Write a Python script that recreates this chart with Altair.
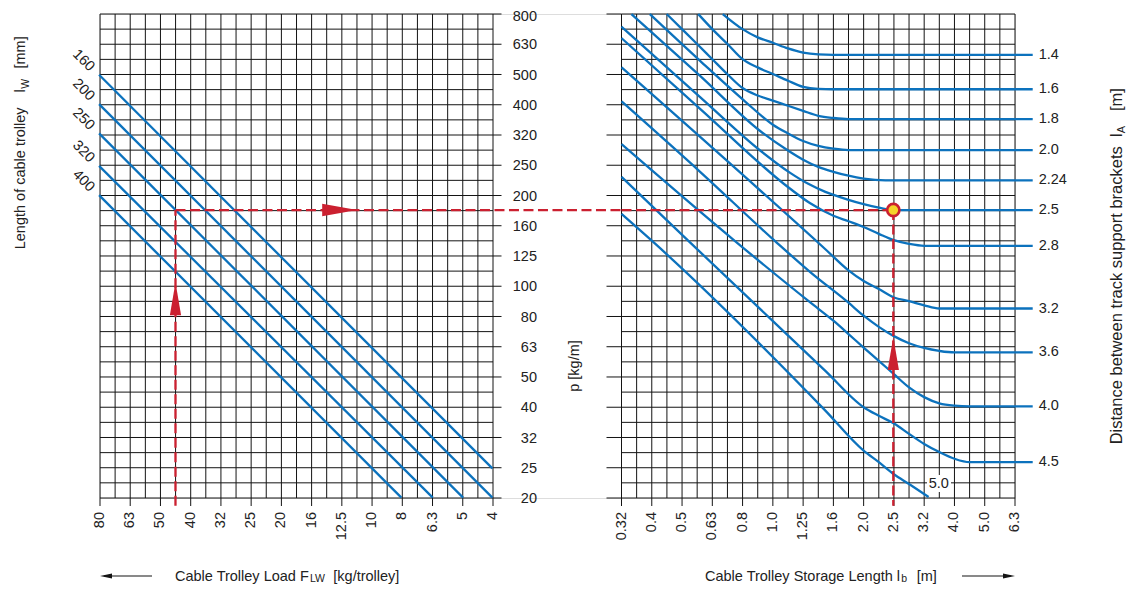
import altair as alt
import pandas as pd

# ---------------- axis ticks, labels and grid (log-uniform, 0.05-decade grid) ----------------
load_tick_values = [79.43, 63.10, 50.12, 39.81, 31.62, 25.12, 19.95, 15.85, 12.59, 10.0, 7.943, 6.310, 5.012, 3.981]
load_tick_labels = ["80", "63", "50", "40", "32", "25", "20", "16", "12.5", "10", "8", "6.3", "5", "4"]
load_grid_values = [79.43, 70.79, 63.10, 56.23, 50.12, 44.67, 39.81, 35.48, 31.62, 28.18, 25.12, 22.39, 19.95,
                    17.78, 15.85, 14.13, 12.59, 11.22, 10.0, 8.913, 7.943, 7.079, 6.310, 5.623, 5.012, 4.467, 3.981]

p_tick_values = [794.3, 631.0, 501.2, 398.1, 316.2, 251.2, 199.5, 158.5, 125.9, 100.0, 79.43, 63.10, 50.12,
                 39.81, 31.62, 25.12, 19.95]
p_tick_labels = ["800", "630", "500", "400", "320", "250", "200", "160", "125", "100", "80", "63", "50",
                 "40", "32", "25", "20"]
p_grid_values = [794.3, 707.9, 631.0, 562.3, 501.2, 446.7, 398.1, 354.8, 316.2, 281.8, 251.2, 223.9, 199.5,
                 177.8, 158.5, 141.3, 125.9, 112.2, 100.0, 89.13, 79.43, 70.79, 63.10, 56.23, 50.12, 44.67,
                 39.81, 35.48, 31.62, 28.18, 25.12, 22.39, 19.95]

lb_tick_values = [0.3162, 0.3981, 0.5012, 0.6310, 0.7943, 1.0, 1.259, 1.585, 1.995, 2.512, 3.162, 3.981, 5.012, 6.310]
lb_tick_labels = ["0.32", "0.4", "0.5", "0.63", "0.8", "1.0", "1.25", "1.6", "2.0", "2.5", "3.2", "4.0", "5.0", "6.3"]
lb_grid_values = [0.3162, 0.3548, 0.3981, 0.4467, 0.5012, 0.5623, 0.6310, 0.7079, 0.7943, 0.8913, 1.0, 1.122,
                  1.259, 1.413, 1.585, 1.778, 1.995, 2.239, 2.512, 2.818, 3.162, 3.548, 3.981, 4.467, 5.012,
                  5.623, 6.310]

# ---------------- left panel: cable trolley lines ----------------
lw_labels = ["160", "200", "250", "320", "400"]
lw_load_start = [80, 80, 80, 80, 80]
lw_p_start = [500, 400, 320, 250, 200]
lw_load_end = [4, 4, 5, 6.3, 8]
lw_p_end = [25, 20, 20, 20, 20]

# ---------------- right panel: bracket distance curves ----------------
la_names = ["1.4", "1.6", "1.8", "2.0", "2.24", "2.5", "2.8", "3.2", "3.6", "4.0", "4.5", "5.0"]
lb_1_4 = [0.683, 0.794, 0.891, 1.0, 1.122, 1.259, 1.413, 1.585, 7.22]
p_1_4 = [794, 708, 665, 638, 611, 592, 584, 582, 582]
lb_1_6 = [0.567, 0.631, 0.708, 0.794, 0.891, 1.0, 1.122, 1.259, 1.413, 1.585, 7.22]
p_1_6 = [794, 708, 632, 563, 529, 503, 478, 456, 449, 448, 448]
lb_1_8 = [0.446, 0.501, 0.562, 0.631, 0.708, 0.794, 0.891, 1.0, 1.122, 1.259, 1.413, 1.585, 1.778, 7.22]
p_1_8 = [794, 708, 632, 563, 502, 452, 427, 411, 395, 380, 366, 360, 357, 357]
lb_2_0 = [0.392, 0.575, 0.810, 1.0, 1.122, 1.259, 1.413, 1.585, 1.778, 7.22]
p_2_0 = [794, 556, 408, 342, 320, 302, 291, 285, 282, 282]
lb_2_24 = [0.341, 0.575, 0.908, 1.122, 1.259, 1.413, 1.585, 1.778, 1.995, 2.355, 7.22]
p_2_24 = [794, 496, 326, 281, 262, 248, 239, 232, 227, 224, 224]
lb_2_5 = [0.3162, 0.575, 0.908, 1.141, 1.309, 1.491, 1.778, 1.995, 2.239, 2.512, 7.22]
p_2_5 = [721, 422, 281, 237, 218, 205, 193, 186.7, 181.8, 178.6, 178.6]
lb_2_8 = [0.3162, 0.575, 1.141, 1.329, 1.585, 1.778, 1.995, 2.239, 2.512, 2.818, 3.162, 7.22]
p_2_8 = [661, 386, 210, 188, 171, 164, 157, 149, 142, 138, 136, 136]
lb_3_2 = [0.3162, 1.510, 1.778, 1.995, 2.239, 2.512, 2.818, 3.162, 3.548, 7.22]
p_3_2 = [529, 131, 112.8, 104, 97.9, 91.8, 89.3, 86.5, 84.4, 84.4]
lb_3_6 = [0.3162, 0.575, 1.017, 1.329, 1.778, 1.995, 2.239, 2.512, 2.818, 3.162, 3.548, 3.981, 7.22]
p_3_6 = [408.6, 239, 141, 111.4, 88.2, 79.9, 73.4, 68.4, 64.8, 62.5, 61.1, 60.4, 60.4]
lb_4_0 = [0.3162, 0.750, 1.329, 1.585, 1.778, 1.995, 2.239, 2.512, 2.818, 3.162, 3.548, 3.981, 4.467, 7.22]
p_4_0 = [294.9, 141, 88.4, 76.9, 69.5, 62.7, 56.7, 51.2, 46.3, 43.0, 41.0, 40.3, 40.1, 40.1]
lb_4_5 = [0.3162, 0.525, 1.491, 1.995, 2.239, 2.512, 2.818, 3.162, 3.548, 3.981, 4.467, 7.22]
p_4_5 = [229.9, 141.5, 52.5, 39.8, 37.3, 35.2, 32.5, 30.1, 28.3, 26.9, 26.2, 26.2]
lb_5_0 = [0.3162, 0.3981, 1.491, 1.995, 2.239, 2.512, 2.818, 3.27]
p_5_0 = [173.4, 141.4, 38.8, 28.6, 26.2, 23.9, 22.2, 20.1]

la_label_names = ["1.4", "1.6", "1.8", "2.0", "2.24", "2.5", "2.8", "3.2", "3.6", "4.0", "4.5"]
la_label_p = [582, 448, 357, 282, 224, 178.6, 136, 84.4, 60.4, 40.1, 26.2]
la_label_lb = 7.22

# ---------------- worked example (red) ----------------
ex_load = 44.7
ex_p = 178.6
ex_lb = 2.5
ex_p_bottom = 18.8
ex_load_gap_end = 1.5
arrow_up_left_p = 91
arrow_right_load = 12.8
arrow_up_right_p = 59.9

# ---------------- styling ----------------
FONT = "Liberation Sans, Arial, Helvetica"
BLUE = "#0c72bd"
RED = "#cb2030"
YELLOW = "#f5d42a"
INK = "#141414"
TXT = "#222222"
LEFT_W = 393
RIGHT_X0 = 521.5
TOTAL_W = 915
PLOT_H = 484
TICK_FS = 14.5
TITLE_FS = 14.5
SUB_FS = 10.5

xL = alt.Scale(type="log", domain=[3.981, 79.43], reverse=True, range=[0, LEFT_W], nice=False)
xR = alt.Scale(type="log", domain=[0.3162, 6.310], range=[RIGHT_X0, TOTAL_W], nice=False)
yS = alt.Scale(type="log", domain=[19.95, 794.3], nice=False)

one = pd.DataFrame({"k": [0]})


def XL(f="F:Q"):
    return alt.X(f, scale=xL, axis=None)


def XR(f="lb:Q"):
    return alt.X(f, scale=xR, axis=None)


def Y(f="p:Q"):
    return alt.Y(f, scale=yS, axis=None)


def txt(text, x, y, size=TITLE_FS, angle=0, align="left", baseline="alphabetic"):
    return alt.Chart(pd.DataFrame({"t": [text]})).mark_text(
        font=FONT, fontSize=size, color=TXT, angle=angle, align=align, baseline=baseline
    ).encode(x=alt.value(x), y=alt.value(y), text="t:N")


# ================= LEFT PANEL =================
gridv_L = alt.Chart(pd.DataFrame({"F": load_grid_values})).mark_rule(color=INK, strokeWidth=1).encode(
    x=XL(), y=alt.YDatum(794.3, scale=yS, axis=None), y2=alt.Y2Datum(19.95))
gridh_L = alt.Chart(pd.DataFrame({"p": p_grid_values})).mark_rule(color=INK, strokeWidth=1).encode(
    y=Y(), x=alt.XDatum(79.43, scale=xL, axis=None), x2=alt.X2Datum(3.981))

xt_L_df = pd.DataFrame({"F": load_tick_values, "lab": load_tick_labels})
xticks_L = alt.Chart(xt_L_df).mark_rule(color=INK, strokeWidth=1).encode(
    x=XL(), y=alt.value(PLOT_H), y2=alt.value(PLOT_H + 8))
xlabels_L = alt.Chart(xt_L_df).mark_text(angle=270, align="right", baseline="middle", font=FONT,
                                         fontSize=TICK_FS, color=TXT).encode(
    x=XL(), y=alt.value(PLOT_H + 14), text="lab:N")

yt_df = pd.DataFrame({"p": p_tick_values, "lab": p_tick_labels})
yticks_L = alt.Chart(yt_df).mark_rule(color=INK, strokeWidth=1).encode(
    y=Y(), x=alt.value(LEFT_W), x2=alt.value(LEFT_W + 8.5))
ylabels_L = alt.Chart(yt_df.iloc[1:]).mark_text(align="right", baseline="middle", dy=1.2, font=FONT,
                                                fontSize=TICK_FS, color=TXT).encode(
    y=Y(), x=alt.value(LEFT_W + 44), text="lab:N")
ylabel_top_L = alt.Chart(yt_df.iloc[:1]).mark_text(align="right", baseline="middle", dy=2.6, font=FONT,
                                                   fontSize=TICK_FS, color=TXT).encode(
    y=Y(), x=alt.value(LEFT_W + 44), text="lab:N")

trolley_rows = []
for name, f0, p0, f1, p1 in zip(lw_labels, lw_load_start, lw_p_start, lw_load_end, lw_p_end):
    trolley_rows.append({"lw": name, "F": f0, "p": p0})
    trolley_rows.append({"lw": name, "F": f1, "p": p1})
trolley_df = pd.DataFrame(trolley_rows)
lines_L = alt.Chart(trolley_df).mark_line(color=BLUE, strokeWidth=2.3).encode(x=XL(), y=Y(), detail="lw:N")

start_df = pd.DataFrame({"lw": lw_labels, "F": lw_load_start, "p": lw_p_start})
labels_L = alt.Chart(start_df).mark_text(angle=45, dx=-21, dy=1, font=FONT, fontSize=TICK_FS, color=TXT,
                                         align="center", baseline="middle").encode(x=XL(), y=Y(), text="lw:N")

red_L_df = pd.DataFrame({
    "seg": ["v", "v", "h", "h"],
    "F": [ex_load, ex_load, ex_load, ex_load_gap_end],
    "p": [ex_p_bottom, ex_p, ex_p, ex_p],
})
red_L = alt.Chart(red_L_df).mark_line(color=RED, strokeWidth=2.3, strokeDash=[10, 4.5]).encode(
    x=XL(), y=Y(), detail="seg:N")

arrow_up_L = alt.Chart(pd.DataFrame({"F": [ex_load], "p": [arrow_up_left_p]})).mark_point(
    shape="M0,-1L0.34,1L-0.34,1Z", filled=True, color=RED, size=1089, opacity=1).encode(x=XL(), y=Y())
arrow_rt_L = alt.Chart(pd.DataFrame({"F": [arrow_right_load], "p": [ex_p]})).mark_point(
    shape="M1,0L-1,-0.36L-1,0.36Z", filled=True, color=RED, size=1225, opacity=1).encode(x=XL(), y=Y())

left_layer = alt.layer(gridv_L, gridh_L, xticks_L, xlabels_L, yticks_L, ylabels_L, ylabel_top_L, lines_L,
                       labels_L, red_L, arrow_up_L, arrow_rt_L)

# ================= RIGHT PANEL =================
gridv_R = alt.Chart(pd.DataFrame({"lb": lb_grid_values})).mark_rule(color=INK, strokeWidth=1).encode(
    x=XR(), y=alt.YDatum(794.3, scale=yS, axis=None), y2=alt.Y2Datum(19.95))
gridh_R = alt.Chart(pd.DataFrame({"p": p_grid_values})).mark_rule(color=INK, strokeWidth=1).encode(
    y=Y(), x=alt.XDatum(0.3162, scale=xR, axis=None), x2=alt.X2Datum(6.310))

xt_R_df = pd.DataFrame({"lb": lb_tick_values, "lab": lb_tick_labels})
xticks_R = alt.Chart(xt_R_df).mark_rule(color=INK, strokeWidth=1).encode(
    x=XR(), y=alt.value(PLOT_H), y2=alt.value(PLOT_H + 8))
xlabels_R = alt.Chart(xt_R_df).mark_text(angle=270, align="right", baseline="middle", font=FONT,
                                         fontSize=TICK_FS, color=TXT).encode(
    x=XR(), y=alt.value(PLOT_H + 14), text="lab:N")
yticks_R = alt.Chart(yt_df).mark_rule(color=INK, strokeWidth=1).encode(
    y=Y(), x=alt.value(RIGHT_X0 - 15), x2=alt.value(RIGHT_X0))

curve_lists = [(lb_1_4, p_1_4), (lb_1_6, p_1_6), (lb_1_8, p_1_8), (lb_2_0, p_2_0), (lb_2_24, p_2_24),
               (lb_2_5, p_2_5), (lb_2_8, p_2_8), (lb_3_2, p_3_2), (lb_3_6, p_3_6), (lb_4_0, p_4_0),
               (lb_4_5, p_4_5), (lb_5_0, p_5_0)]
curve_rows = []
for name, (xs, ps) in zip(la_names, curve_lists):
    for i, (a, b) in enumerate(zip(xs, ps)):
        curve_rows.append({"la": name, "lb": a, "p": b, "i": i})
curve_df = pd.DataFrame(curve_rows)
curves_R = alt.Chart(curve_df).mark_line(color=BLUE, strokeWidth=2.3, interpolate="monotone").encode(
    x=XR(), y=Y(), detail="la:N", order="i:Q")

lab_df = pd.DataFrame({"la": la_label_names, "p": la_label_p, "lb": [la_label_lb] * len(la_label_names)})
labels_R = alt.Chart(lab_df).mark_text(dx=6, align="left", baseline="middle", font=FONT, fontSize=TICK_FS,
                                       color=TXT).encode(x=XR(), y=Y(), text="la:N")

box_50 = alt.Chart(one).mark_rect(color="white").encode(
    x=alt.value(827), x2=alt.value(851), y=alt.value(461), y2=alt.value(478))
text_50 = txt("5.0", 838.8, 469.5, size=TICK_FS, align="center", baseline="middle")

red_R_df = pd.DataFrame({
    "seg": ["h", "h", "v", "v"],
    "lb": [0.3162, ex_lb, ex_lb, ex_lb],
    "p": [ex_p, ex_p, ex_p, ex_p_bottom],
})
red_R = alt.Chart(red_R_df).mark_line(color=RED, strokeWidth=2.3, strokeDash=[10, 4.5]).encode(
    x=XR(), y=Y(), detail="seg:N")
arrow_up_R = alt.Chart(pd.DataFrame({"lb": [ex_lb], "p": [arrow_up_right_p]})).mark_point(
    shape="M0,-1L0.34,1L-0.34,1Z", filled=True, color=RED, size=1089, opacity=1).encode(x=XR(), y=Y())
circle_R = alt.Chart(pd.DataFrame({"lb": [ex_lb], "p": [ex_p]})).mark_point(
    shape="circle", filled=False, fill=YELLOW, fillOpacity=1, stroke=RED, strokeWidth=2.6, size=150,
    opacity=1).encode(x=XR(), y=Y())

# ---- titles (with subscripts) ----
titles = [
    txt("Length of cable trolley", -75, 235.3, angle=270),
    txt("l", -75, 78.5, angle=270),
    txt("W", -71.5, 74.8, size=SUB_FS, angle=270),
    txt("[mm]", -75, 54.5, angle=270),
    txt("p [kg/m]", 475, 352, angle=270, align="center", baseline="middle"),
    txt("Distance between track support brackets", 1021.7, 430.3, size=16.5, angle=270),
    txt("l", 1021.7, 123, size=16.5, angle=270),
    txt("A", 1025, 119.3, size=11, angle=270),
    txt("[m]", 1021.7, 97, size=16.5, angle=270),
    txt("Cable Trolley Load F", 75, 566.5),
    txt("LW", 210, 568.3, size=SUB_FS),
    txt("[kg/trolley]", 233.3, 566.5),
    txt("Cable Trolley Storage Length", 605, 566.5),
    txt("l", 796.7, 566.5),
    txt("b", 801.2, 568.3, size=SUB_FS),
    txt("[m]", 816.7, 566.5),
]
arrow_rule_L = alt.Chart(one).mark_rule(color=INK, strokeWidth=1.2).encode(
    x=alt.value(4), x2=alt.value(52), y=alt.value(562))
arrow_head_L = alt.Chart(one).mark_point(shape="M-1,0L1,-0.4L1,0.4Z", filled=True, color=INK, size=144,
                                         opacity=1).encode(x=alt.value(6), y=alt.value(562))
arrow_rule_R = alt.Chart(one).mark_rule(color=INK, strokeWidth=1.2).encode(
    x=alt.value(862), x2=alt.value(911), y=alt.value(562))
arrow_head_R = alt.Chart(one).mark_point(shape="M1,0L-1,-0.4L-1,0.4Z", filled=True, color=INK, size=144,
                                         opacity=1).encode(x=alt.value(909), y=alt.value(562))

right_layer = alt.layer(gridv_R, gridh_R, xticks_R, xlabels_R, yticks_R, curves_R, labels_R, box_50, text_50,
                        red_R, arrow_up_R, circle_R, *titles, arrow_rule_L, arrow_head_L, arrow_rule_R,
                        arrow_head_R)

chart = alt.layer(left_layer, right_layer).resolve_scale(x="independent").properties(
    width=TOTAL_W, height=PLOT_H,
    padding={"left": 92, "top": 6, "right": 111, "bottom": 86},
    autosize=alt.AutoSizeParams(type="none"),
).configure_view(stroke=None).configure(background="white")

chart.save("out.html", embed_options={"renderer": "svg", "actions": False})
